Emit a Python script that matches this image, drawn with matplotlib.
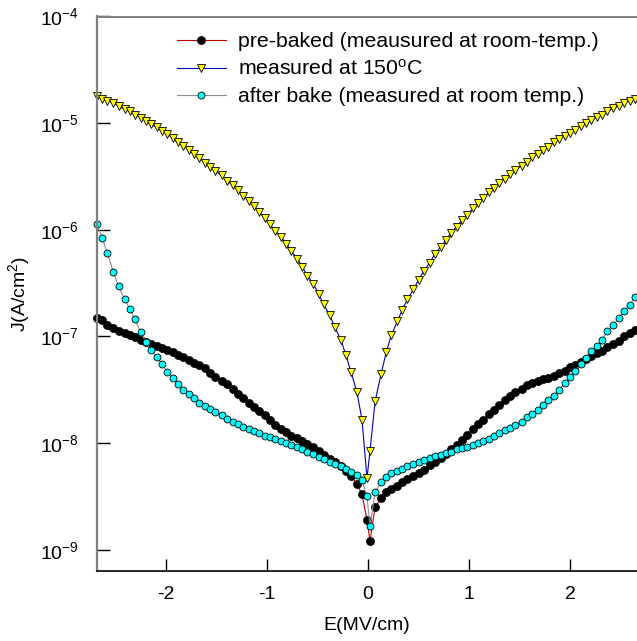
import numpy as np
import matplotlib
matplotlib.use("Agg")
import matplotlib.pyplot as plt
from matplotlib.ticker import LogFormatterSciNotation, NullLocator, FixedLocator

plt.rcParams['font.family'] = ['Liberation Sans', 'DejaVu Sans']
plt.rcParams['mathtext.fontset'] = 'custom'
plt.rcParams['mathtext.rm'] = 'Liberation Sans'
plt.rcParams['mathtext.it'] = 'Liberation Sans:italic'
plt.rcParams['axes.unicode_minus'] = False

# electric field (MV/cm), negative sweep then positive sweep
E = [-2.68, -2.63, -2.58, -2.52, -2.47, -2.41, -2.36, -2.31, -2.25, -2.20,
     -2.15, -2.09, -2.04, -1.99, -1.93, -1.88, -1.83, -1.77, -1.72, -1.67,
     -1.61, -1.56, -1.51, -1.45, -1.40, -1.34, -1.29, -1.24, -1.18, -1.13,
     -1.08, -1.02, -0.97, -0.92, -0.86, -0.81, -0.76, -0.70, -0.65, -0.60,
     -0.54, -0.49, -0.44, -0.38, -0.33, -0.27, -0.22, -0.17, -0.11, -0.06,
     -0.01,
     0.02, 0.07, 0.13, 0.18, 0.23, 0.29, 0.34, 0.39, 0.45, 0.50,
     0.55, 0.61, 0.66, 0.72, 0.77, 0.82, 0.88, 0.93, 0.98, 1.04,
     1.09, 1.14, 1.20, 1.25, 1.30, 1.36, 1.41, 1.46, 1.52, 1.57,
     1.62, 1.68, 1.73, 1.78, 1.84, 1.89, 1.95, 2.00, 2.05, 2.11,
     2.16, 2.21, 2.27, 2.32, 2.37, 2.43, 2.48, 2.53, 2.59, 2.64]

# log10 of J (A/cm^2)
logJ_prebaked = [
    -6.83, -6.85, -6.89, -6.92, -6.95, -6.97, -6.99, -7.01, -7.03, -7.05,
    -7.07, -7.09, -7.11, -7.13, -7.15, -7.17, -7.19, -7.22, -7.25, -7.27,
    -7.30, -7.34, -7.38, -7.42, -7.45, -7.49, -7.54, -7.58, -7.62, -7.66,
    -7.70, -7.74, -7.78, -7.83, -7.87, -7.90, -7.93, -7.95, -7.98, -8.01,
    -8.04, -8.07, -8.11, -8.15, -8.18, -8.22, -8.26, -8.31, -8.38, -8.48,
    -8.72,
    -8.92, -8.60, -8.52, -8.46, -8.43, -8.40, -8.37, -8.34, -8.31, -8.28,
    -8.25, -8.21, -8.18, -8.14, -8.10, -8.06, -8.02, -7.97, -7.92, -7.87,
    -7.82, -7.78, -7.73, -7.69, -7.64, -7.60, -7.56, -7.52, -7.49, -7.46,
    -7.44, -7.42, -7.40, -7.39, -7.37, -7.34, -7.32, -7.29, -7.27, -7.24,
    -7.21, -7.18, -7.16, -7.14, -7.10, -7.07, -7.04, -7.00, -6.97, -6.94]

logJ_150C = [
    -4.75, -4.77, -4.79, -4.81, -4.84, -4.87, -4.89, -4.92, -4.95, -4.98,
    -5.01, -5.04, -5.07, -5.10, -5.14, -5.18, -5.21, -5.25, -5.29, -5.33,
    -5.37, -5.41, -5.45, -5.49, -5.54, -5.58, -5.63, -5.68, -5.73, -5.78,
    -5.83, -5.89, -5.95, -6.01, -6.07, -6.13, -6.20, -6.27, -6.35, -6.43,
    -6.51, -6.60, -6.70, -6.80, -6.91, -7.03, -7.17, -7.33, -7.52, -7.78,
    -8.33,
    -8.07, -7.61, -7.35, -7.15, -6.99, -6.86, -6.75, -6.65, -6.56, -6.47,
    -6.39, -6.31, -6.23, -6.16, -6.10, -6.03, -5.97, -5.91, -5.86, -5.80,
    -5.75, -5.70, -5.65, -5.61, -5.56, -5.52, -5.48, -5.44, -5.40, -5.36,
    -5.32, -5.29, -5.25, -5.22, -5.18, -5.15, -5.12, -5.09, -5.06, -5.03,
    -5.00, -4.97, -4.94, -4.92, -4.89, -4.86, -4.84, -4.81, -4.79, -4.77]

logJ_afterbake = [
    -5.95, -6.08, -6.22, -6.40, -6.53, -6.65, -6.74, -6.84, -6.96, -7.05,
    -7.13, -7.19, -7.26, -7.33, -7.39, -7.45, -7.50, -7.54, -7.58, -7.62,
    -7.65, -7.68, -7.71, -7.74, -7.77, -7.80, -7.82, -7.85, -7.87, -7.89,
    -7.91, -7.93, -7.94, -7.96, -7.98, -8.00, -8.02, -8.04, -8.06, -8.08,
    -8.10, -8.13, -8.15, -8.18, -8.20, -8.22, -8.24, -8.27, -8.30, -8.35,
    -8.50,
    -8.78, -8.46, -8.37, -8.32, -8.28, -8.26, -8.24, -8.22, -8.20, -8.18,
    -8.16, -8.14, -8.12, -8.11, -8.09, -8.08, -8.06, -8.05, -8.04, -8.02,
    -8.00, -7.98, -7.96, -7.93, -7.91, -7.88, -7.86, -7.83, -7.80, -7.76,
    -7.73, -7.69, -7.64, -7.60, -7.56, -7.50, -7.44, -7.38, -7.32, -7.26,
    -7.20, -7.14, -7.09, -7.03, -6.95, -6.89, -6.83, -6.76, -6.71, -6.63]

labels = ['pre-baked (meausured at room-temp.)',
          'measured at 150$^\\mathrm{o}$C',
          'after bake (measured at room temp.)']

E = np.array(E)
J_pre = 10.0 ** np.array(logJ_prebaked)
J_150 = 10.0 ** np.array(logJ_150C)
J_after = 10.0 ** np.array(logJ_afterbake)

fig = plt.figure(figsize=(6.37, 6.41), dpi=100)
ax = fig.add_axes([97 / 637, 1 - 571 / 641, 1 - 97 / 637, (571 - 16.5) / 641])

ax.plot(E, J_pre, color='#c00000', lw=0.8, marker='o', ms=5.8,
        mfc='black', mec='black', mew=0.5, label=labels[0], clip_on=False)
ax.plot(E, J_150, color='#0000b0', lw=0.8, marker='v', ms=5.2,
        mfc='#ffff00', mec='black', mew=0.6, label=labels[1], clip_on=False)
ax.plot(E, J_after, color='#909090', lw=0.8, marker='o', ms=5.0,
        mfc='#00ffff', mec='black', mew=0.6, label=labels[2], clip_on=False)

ax.set_yscale('log')
ax.set_xlim(-2.683, 2.663)
ax.set_ylim(10 ** -9.2, 1e-4)

ax.xaxis.set_major_locator(FixedLocator([-2, -1, 0, 1, 2]))
ax.yaxis.set_major_locator(FixedLocator([1e-9, 1e-8, 1e-7, 1e-6, 1e-5, 1e-4]))
ax.yaxis.set_major_formatter(LogFormatterSciNotation())
ax.yaxis.set_minor_locator(NullLocator())
ax.tick_params(axis='both', direction='in', labelsize=14)
ax.tick_params(axis='x', length=9, width=1.0, pad=11)
ax.tick_params(axis='y', length=9, width=1.0, pad=13)

ax.spines['right'].set_visible(False)
ax.spines['left'].set_color('#808080')
ax.spines['left'].set_linewidth(1.6)
ax.spines['top'].set_color('#808080')
ax.spines['top'].set_linewidth(1.4)
ax.spines['bottom'].set_color('black')
ax.spines['bottom'].set_linewidth(1.2)

ax.set_xlabel('E(MV/cm)', fontsize=14, labelpad=10)
ax.set_ylabel('J(A/cm$^2$)', fontsize=14, labelpad=6)

ax.legend(loc='upper left', bbox_to_anchor=(177 / 637, 1 - 32 / 641),
          bbox_transform=fig.transFigure, frameon=False, fontsize=15.3,
          handlelength=2.3, handletextpad=0.55, labelspacing=0.38,
          borderpad=0, borderaxespad=0)

fig.savefig('out.png', dpi=100)
